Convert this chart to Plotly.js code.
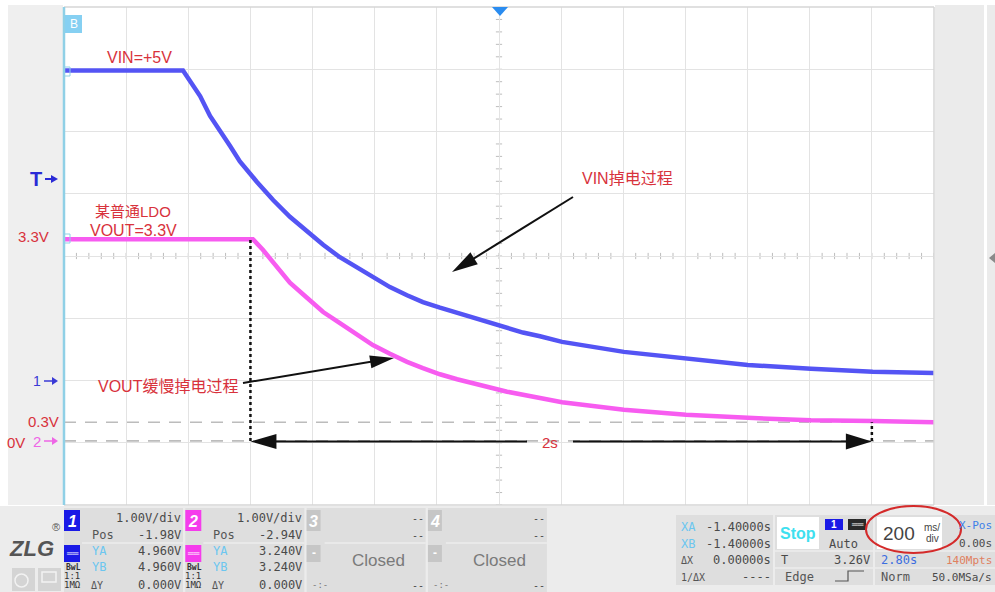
<!DOCTYPE html>
<html><head><meta charset="utf-8">
<script src="https://cdn.plot.ly/plotly-3.0.1.min.js"></script>
<style>html,body{margin:0;padding:0;background:#fff;overflow:hidden}#chart{width:995px;height:592px}</style>
</head><body><div id="chart"></div>
<script>
// ---------------- data ----------------
const timeVin = [-1.40, -1.017, -0.962, -0.930, -0.866, -0.834, -0.779, -0.727, -0.673, -0.618, -0.566, -0.512, -0.457, -0.406, -0.351, -0.296, -0.245, -0.190, -0.135, -0.084, -0.029, 0.026, 0.077, 0.132, 0.203, 0.402, 0.602, 0.801, 1.004, 1.203, 1.40];
const vin     = [4.96, 4.96, 4.55, 4.23, 3.75, 3.50, 3.17, 2.88, 2.61, 2.37, 2.16, 1.96, 1.79, 1.63, 1.48, 1.35, 1.24, 1.15, 1.07, 0.98, 0.90, 0.82, 0.75, 0.69, 0.60, 0.44, 0.34, 0.23, 0.17, 0.12, 0.10];
const timeVout = [-1.40, -0.792, -0.760, -0.727, -0.673, -0.618, -0.566, -0.512, -0.457, -0.406, -0.351, -0.296, -0.245, -0.190, -0.135, -0.084, -0.029, 0.026, 0.132, 0.203, 0.402, 0.602, 0.801, 1.004, 1.203, 1.40];
const vout     = [3.24, 3.24, 3.07, 2.86, 2.54, 2.30, 2.07, 1.89, 1.70, 1.54, 1.40, 1.27, 1.17, 1.07, 0.99, 0.93, 0.85, 0.79, 0.69, 0.62, 0.50, 0.42, 0.37, 0.33, 0.32, 0.30];
const cursorTimes = [-0.8, 1.2];
const levelLines = [0.3, 0];
const timeRange = [-1.4, 1.4];
const ch1Offset = 1.98, ch2Offset = 2.97;   // divisions below centre of each channel's 0 V
const chLabels = ['1', '2', '3', '4'];
const chScale = ['1.00V/div', '1.00V/div', '--', '--'];
const chPos = ['-1.98V', '-2.94V', '--', '--'];
const chYA = ['4.960V', '3.240V'];
const chYB = ['4.960V', '3.240V'];
const chDY = ['0.000V', '0.000V'];
const cursorRows = [['XA', '-1.40000s'], ['XB', '-1.40000s'], ['ΔX', '0.00000s'], ['1/ΔX', '----']];

// ---------------- helpers ----------------
const L = 64, R = 934, T = 7, B = 505;
const X = px => (px - L) / (R - L);
const Y = py => (B - py) / (B - T);
const tx = t => L + (t - timeRange[0]) / (timeRange[1] - timeRange[0]) * (R - L);
const RED = '#d8323c', BLUE = '#5454f4', PINK = '#f75cf0';
const SANS = 'Liberation Sans, Arial, Noto Sans CJK SC, sans-serif';
const CJK = 'Liberation Sans, Noto Sans CJK SC, sans-serif';
const MONO = 'DejaVu Sans Mono, monospace';
const shapes = [], ann = [];

function rect(x0, y0, x1, y1, fill, line) {
  shapes.push({type: 'rect', xref: 'paper', yref: 'paper', x0: X(x0), x1: X(x1), y0: Y(y1), y1: Y(y0),
    fillcolor: fill, line: line || {width: 0}, layer: 'above'});
}
function seg(x0, y0, x1, y1, color, width, dash) {
  shapes.push({type: 'line', xref: 'paper', yref: 'paper', x0: X(x0), y0: Y(y0), x1: X(x1), y1: Y(y1),
    line: {color: color, width: width, dash: dash || 'solid'}, layer: 'above'});
}
function poly(pts, fill) {
  const p = pts.map((q, i) => (i ? 'L ' : 'M ') + X(q[0]) + ' ' + Y(q[1])).join(' ') + ' Z';
  shapes.push({type: 'path', xref: 'paper', yref: 'paper', path: p, fillcolor: fill, line: {width: 0}, layer: 'above'});
}
function arrow(x1, y1, x2, y2, hl, hw, color, w) {
  color = color || '#111';
  const dx = x2 - x1, dy = y2 - y1, len = Math.hypot(dx, dy), ux = dx / len, uy = dy / len;
  const bx = x2 - ux * hl, by = y2 - uy * hl, nx = -uy, ny = ux;
  seg(x1, y1, x2 - ux * hl * 0.6, y2 - uy * hl * 0.6, color, w || 2);
  poly([[x2, y2], [bx + nx * hw / 2, by + ny * hw / 2], [bx - nx * hw / 2, by - ny * hw / 2]], color);
}
function txt(x, y, text, size, color, anchor, family, extra) {
  ann.push(Object.assign({xref: 'paper', yref: 'paper', x: X(x), y: Y(y), text: text, showarrow: false,
    xanchor: anchor || 'center', yanchor: 'middle', borderpad: 0,
    font: {family: family || SANS, size: size, color: color}}, extra || {}));
}

// ---------------- screen frame ----------------
rect(8, 5, 63, 505, '#efefef');
rect(935, 5, 984, 505, '#ebebeb');
rect(987, 5, 995, 505, '#ebebeb');
poly([[989, 258], [995, 253], [995, 263]], '#8a8a8a');
seg(L, T, R, T, '#d6d6d6', 1.5);
seg(R, T, R, B, '#d6d6d6', 1.5);
seg(L, B, R, B, '#d6d6d6', 1.5);
seg(L, T, L, B, '#8fd0e6', 2.5);
rect(64, 67, 70, 76, 'rgba(0,0,0,0)', {color: '#8fd0e6', width: 1});
rect(64, 234, 70, 243, 'rgba(0,0,0,0)', {color: '#8fd0e6', width: 1});
rect(65, 15, 82, 33, '#86d0f2');
txt(73.5, 24, 'B', 12, '#ffffff');
poly([[492, 7], [508, 7], [500, 16]], '#2a8cf0');

// centre-line minor ticks
for (let k = -35; k <= 35; k++) {
  shapes.push({type: 'line', xref: 'x', yref: 'y', x0: k * 0.04, x1: k * 0.04, y0: -0.05, y1: 0.05,
    line: {color: '#bdbdbd', width: 1}, layer: 'below'});
}
for (let k = -20; k <= 20; k++) {
  shapes.push({type: 'line', xref: 'x', yref: 'y', x0: -0.01, x1: 0.01, y0: k * 0.2, y1: k * 0.2,
    line: {color: '#bdbdbd', width: 1}, layer: 'below'});
}

// reference level dashed lines (channel 2 scale)
levelLines.forEach(v => shapes.push({type: 'line', xref: 'paper', yref: 'y3', x0: 0, x1: 1, y0: v, y1: v,
  line: {color: '#bcbcbc', width: 1.6, dash: '12px,9px'}, layer: 'below'}));
// cursor dotted lines
const cursorTop = [vout[0], levelLines[0]];
cursorTimes.forEach((t, i) => shapes.push({type: 'line', xref: 'x', yref: 'y3', x0: t, x1: t, y0: 0, y1: cursorTop[i],
  line: {color: '#111', width: 2.5, dash: 'dot'}, layer: 'above'}));

// left side markers
txt(36, 179, '<b>T</b>', 20, '#2a2ad6');
arrow(45, 179, 58, 179, 7, 8, '#2a2ad6', 2);
txt(33, 237, '3.3V', 15, RED);
txt(37, 381, '1', 14, '#3a3ad6');
arrow(44, 381, 58, 381, 6, 8, '#3a3ad6', 1.5);
txt(43, 421, '0.3V', 15, RED);
txt(16, 442, '0V', 15, RED);
txt(37, 441, '2', 15, '#ee66e6');
arrow(44, 441, 58, 441, 6, 8, '#ee66e6', 1.5);

// annotations on the screen
txt(139, 57, 'VIN=+5V', 16, RED);
txt(133, 211, '某普通LDO', 15, RED, 'center', CJK);
txt(133, 230, 'VOUT=3.3V', 16, RED);
txt(627, 179, 'VIN掉电过程', 16, RED, 'center', CJK);
txt(168, 386, 'VOUT缓慢掉电过程', 16, RED, 'center', CJK);
txt(550, 442, '2s', 15, RED);
arrow(243, 383, 394, 358, 24, 13);
arrow(573, 197, 452, 272, 26, 14);
arrow(527, 441.5, tx(cursorTimes[0]), 441.5, 26, 15);
arrow(573, 441.5, tx(cursorTimes[1]), 441.5, 26, 16);

// ---------------- bottom status bar ----------------
rect(0, 506, 995, 592, '#ececec');
txt(31, 548, '<b><i>ZLG</i></b>', 22, '#555');
txt(56, 527, '®', 11, '#555');
rect(12, 568, 35, 591, '#d4d4d4');
rect(38, 568, 61, 591, '#d4d4d4');
shapes.push({type: 'circle', xref: 'paper', yref: 'paper', x0: X(15), x1: X(28), y0: Y(587), y1: Y(574), line: {color: '#f2f2f2', width: 1.5}, layer: 'above'});
rect(42, 572, 56, 582, 'rgba(0,0,0,0)', {color: '#f2f2f2', width: 1.5});

const chColors = ['#1a1ae6', '#f53cec', '#c6c6c6', '#c6c6c6'];
for (let i = 0; i < 4; i++) {
  const x0 = 64 + i * 121.3;
  rect(x0, 508, x0 + 119, 592, '#dedede');
  seg(x0 + 18, 543, x0 + 119, 543, '#f4f4f4', 1);
  rect(x0, 510, x0 + (i < 2 ? 16 : 14), 531, chColors[i]);
  txt(x0 + (i < 2 ? 8 : 7), 521, '<b><i>' + chLabels[i] + '</i></b>', 16, '#ffffff');
  rect(x0, 545, x0 + (i < 2 ? 16 : 14), 562, chColors[i]);
  txt(x0 + 118, 518, chScale[i], i < 2 ? 12 : 10, '#4a4a4a', 'right', MONO);
  txt(x0 + 118, 535, chPos[i], i < 2 ? 12 : 10, '#4a4a4a', 'right', MONO);
  if (i < 2) {
    txt(x0 + 8, 553, '══', 8, '#ffffff');
    txt(x0 + 27, 535, 'Pos', 12, '#555', 'left', MONO);
    txt(x0 + 27, 551, 'YA', 12, '#6cc6f0', 'left', MONO);
    txt(x0 + 118, 551, chYA[i], 12, '#4a4a4a', 'right', MONO);
    txt(x0 + 27, 567, 'YB', 12, '#6cc6f0', 'left', MONO);
    txt(x0 + 118, 567, chYB[i], 12, '#4a4a4a', 'right', MONO);
    txt(x0 + 1, 567, '<b>BwL</b>', 8, '#333', 'left', MONO);
    txt(x0 + 8, 576, '1:1', 9, '#333', 'center', MONO);
    txt(x0 + 8, 585, '1MΩ', 9, '#333', 'center', MONO);
    txt(x0 + 26, 585, 'ΔY', 10, '#555', 'left', MONO);
    txt(x0 + 118, 585, chDY[i], 12, '#4a4a4a', 'right', MONO);
  } else {
    txt(x0 + 7, 553, '<b>-</b>', 12, '#ffffff');
    txt(x0 + 72, 560, 'Closed', 17, '#7a7a7a');
    txt(x0 + 4, 585, '-:-', 9, '#777', 'left', MONO);
    txt(x0 + 118, 585, '--', 10, '#4a4a4a', 'right', MONO);
  }
}

// cursor panel
rect(676, 515, 773, 585, '#dedede');
cursorRows.forEach((r, i) => {
  const y = 527 + i * 16.7;
  txt(680, y, r[0], i < 2 ? 12 : 10, i < 2 ? '#6cc6f0' : '#555', 'left', MONO);
  txt(772, y, r[1], 12, '#4a4a4a', 'right', MONO);
});
// trigger panel
rect(775, 515, 873, 585, '#dedede');
rect(777, 517, 819, 549, '#ffffff');
txt(798, 533, '<b>Stop</b>', 16, '#3ee0ef');
rect(825, 519, 843, 530, '#1a1ae6');
txt(834, 524.5, '<b>1</b>', 10, '#ffffff');
rect(848, 519, 866, 530, '#2a2a2a');
txt(857, 524.5, '══', 8, '#ffffff');
txt(843, 544, 'Auto', 12, '#4a4a4a', 'center', MONO);
seg(775, 551, 873, 551, '#f4f4f4', 1);
seg(775, 568, 873, 568, '#f4f4f4', 1);
txt(780, 560, 'T', 12, '#4a4a4a', 'left', MONO);
txt(871, 560, '3.26V', 12, '#4a4a4a', 'right', MONO);
txt(784, 577, 'Edge', 12, '#555', 'left', MONO);
shapes.push({type: 'path', xref: 'paper', yref: 'paper', layer: 'above', line: {color: '#555', width: 1.2},
  path: `M ${X(835)} ${Y(581)} L ${X(848)} ${Y(581)} L ${X(848)} ${Y(571)} L ${X(864)} ${Y(571)}`});
// timebase panel
rect(875, 515, 995, 585, '#dedede');
rect(877, 517, 942, 549, '#ffffff');
txt(899, 533, '200', 19, '#444');
txt(932, 527, 'ms/', 10, '#444');
txt(932, 538.5, 'div', 10, '#444');
txt(958, 525, 'X-Pos', 11, '#3c7ee8', 'left', MONO);
txt(993, 543, '0.00s', 11, '#4a4a4a', 'right', MONO);
seg(875, 551, 995, 551, '#f4f4f4', 1);
seg(875, 568, 995, 568, '#f4f4f4', 1);
txt(880, 560, '2.80s', 12, '#3c6ee0', 'left', MONO);
txt(993, 560, '140Mpts', 11, '#e08060', 'right', MONO);
txt(880, 577, 'Norm', 12, '#555', 'left', MONO);
txt(993, 577, '50.0MSa/s', 11, '#4a4a4a', 'right', MONO);
shapes.push({type: 'circle', xref: 'paper', yref: 'paper', x0: X(866), x1: X(961), y0: Y(553), y1: Y(506),
  line: {color: '#d42a2a', width: 2}, layer: 'above'});

// ---------------- traces ----------------
const traces = [
  {type: 'scatter', mode: 'none', x: [timeRange[0]], y: [0], xaxis: 'x', yaxis: 'y', hoverinfo: 'skip', showlegend: false},
  {type: 'scatter', mode: 'lines', x: timeVin, y: vin, xaxis: 'x', yaxis: 'y2', name: 'VIN',
   line: {color: BLUE, width: 4.5}, hoverinfo: 'skip'},
  {type: 'scatter', mode: 'lines', x: timeVout, y: vout, xaxis: 'x', yaxis: 'y3', name: 'VOUT',
   line: {color: PINK, width: 4.5}, hoverinfo: 'skip'}
];

const grid = {showgrid: true, gridcolor: '#e3e3e3', gridwidth: 1, zeroline: false, showticklabels: false,
  ticks: '', showline: false, fixedrange: true};
const layout = {
  width: 995, height: 592,
  margin: {l: L, r: 995 - R, t: T, b: 592 - B, pad: 0},
  paper_bgcolor: '#ffffff', plot_bgcolor: '#ffffff', showlegend: false,
  xaxis: Object.assign({range: timeRange, dtick: 0.2, tick0: 0}, grid),
  yaxis: Object.assign({range: [-4, 4], dtick: 1, tick0: 0}, grid),
  yaxis2: {overlaying: 'y', range: [-4 + ch1Offset, 4 + ch1Offset], visible: false, fixedrange: true},
  yaxis3: {overlaying: 'y', range: [-4 + ch2Offset, 4 + ch2Offset], visible: false, fixedrange: true},
  shapes: shapes, annotations: ann
};
Plotly.newPlot('chart', traces, layout, {staticPlot: true, displayModeBar: false});
</script></body></html>
